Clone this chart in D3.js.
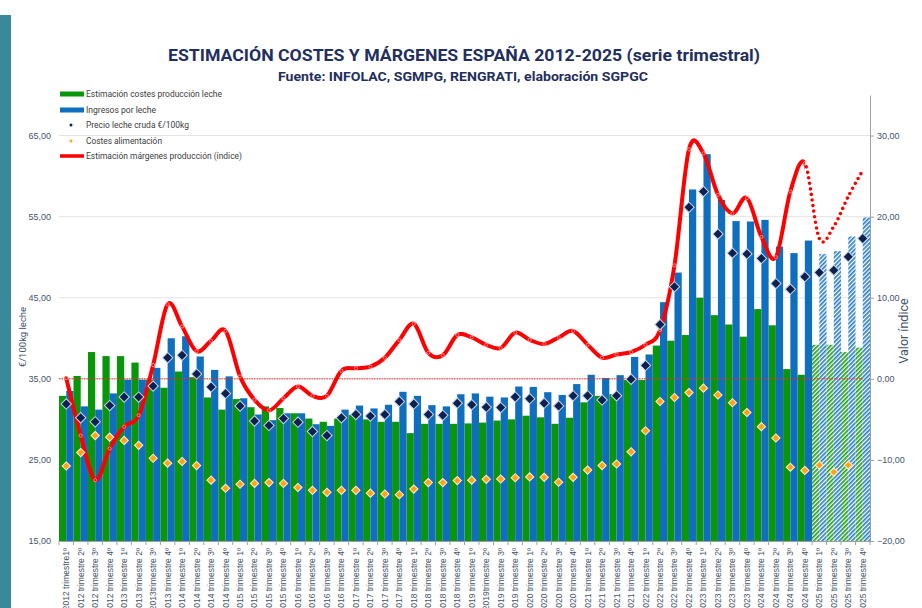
<!DOCTYPE html>
<html>
<head>
<meta charset="utf-8">
<script src="https://cdn.jsdelivr.net/npm/d3@7"></script>
<style>
  body { margin: 0; background: #fff; }
  svg { display: block; font-family: Roboto, "Open Sans", sans-serif; }
</style>
</head>
<body>
<svg id="chart" width="922" height="608"></svg>
<script>
// quarter labels as printed on the x axis (typos kept)
const labels = [
  '2012 trimestre1º', '2012 trimestre 2º', '2012 trimestre 3º', '2012 trimestre 4º',
  '2013 trimestre 1º', '2013 trimestre 2º', '2013trimestre 3º', '2013 trimestre 4º',
  '2014 trimestre 1º', '2014 trimestre 2º', '2014 trimestre 3º', '2014 trimestre 4º',
  '2015 trimestre 1º', '2015 trimestre 2º', '2015 trimestre 3º', '2015 trimestre 4º',
  '2016 trimestre 1º', '2016 trimestre 2º', '2016 trimestre 3º', '2016 trimestre 4º',
  '2017 trimestre 1º', '2017 trimestre 2º', '2017 trimestre 3º', '2017 trimestre 4º',
  '2018 trimestre 1º', '2018 trimestre 2º', '2018 trimestre 3º', '2018 trimestre 4º',
  '2019 trimestre 1º', '2019trimestre 2º', '2019 trimestre 3º', '2019 trimestre 4º',
  '2020 trimestre 1º', '2020 trimestre 2º', '2020 trimestre 3º', '2020 trimestre 4º',
  '2021 trimestre 1º', '2021 trimestre 2º', '2021 trimestre 3º', '2021 trimestre 4º',
  '2022 trimestre 1º', '2022 trimestre 2º', '2022 trimestre 3º', '2022 trimestre 4º',
  '2023 trimestre 1º', '2023 trimestre 2º', '2023 trimestre 3º', '2023 trimestre 4º',
  '2024 trimestre 1º', '2024 trimestre 2º', '2024 trimestre 3º', '2024 trimestre 4º',
  '2025 trimestre 1º', '2025 trimestre 2º', '2025 trimestre 3º', '2025 trimestre 4º'
]

// €/100kg
const costes = [
  32.9, 35.35, 38.3, 37.8, 37.8, 37.0, 34.9, 33.9,
  35.9, 35.2, 32.7, 31.2, 32.5, 31.5, 31.6, 31.4,
  30.75, 30.1, 29.7, 30.1, 30.55, 30.0, 29.7, 29.7,
  28.3, 29.45, 29.45, 29.45, 29.5, 29.6, 29.85, 30.0,
  30.45, 30.25, 29.45, 30.2, 32.1, 32.9, 33.1, 34.85,
  34.85, 39.1, 39.7, 40.4, 45.0, 42.85, 41.7, 40.2,
  43.6, 41.6, 36.2, 35.5, 39.2, 39.2, 38.3, 38.85
]

const ingresos = [
  33.5, 31.6, 31.2, 33.2, 34.9, 34.9, 36.35, 40.0,
  40.25, 37.75, 36.1, 35.3, 32.6, 30.6, 29.9, 30.75,
  30.75, 29.4, 29.2, 31.2, 31.7, 31.35, 31.8, 33.4,
  32.9, 31.75, 31.6, 33.1, 33.2, 32.8, 32.7, 34.05,
  34.0, 33.35, 33.0, 34.35, 35.5, 35.1, 35.45, 37.7,
  38.0, 44.45, 48.1, 58.35, 62.7, 57.05, 54.45, 54.4,
  54.6, 51.3, 50.5, 52.05, 50.4, 50.75, 52.55, 54.9
]

const precio = [
  31.9, 30.2, 29.7, 31.7, 32.75, 32.75, 34.1, 37.6,
  37.9, 35.6, 34.0, 33.2, 31.65, 29.8, 29.25, 30.1,
  29.65, 28.5, 28.0, 30.2, 30.6, 30.4, 30.6, 32.2,
  31.9, 30.6, 30.5, 32.0, 31.8, 31.5, 31.45, 32.75,
  32.55, 32.0, 31.65, 32.9, 32.9, 32.4, 32.9, 34.95,
  36.65, 41.7, 46.35, 56.15, 58.1, 52.85, 50.5, 50.4,
  49.85, 46.75, 46.05, 47.6, 48.1, 48.4, 50.05, 52.3
]

const alimentacion = [
  24.25, 25.9, 28.0, 27.8, 27.4, 26.8, 25.2, 24.6,
  24.8, 24.3, 22.5, 21.5, 22.0, 22.1, 22.2, 22.1,
  21.6, 21.25, 21.0, 21.25, 21.25, 20.9, 20.8, 20.7,
  21.4, 22.2, 22.2, 22.45, 22.5, 22.6, 22.65, 22.8,
  22.9, 22.85, 22.25, 22.85, 23.75, 24.3, 24.5, 26.0,
  28.6, 32.2, 32.7, 33.3, 33.85, 33.0, 32.05, 30.85,
  29.1, 27.7, 24.1, 23.7, 24.35, 23.5, 24.35, null
]

// índice, eje derecho
const margen = [
  0.1, -7.0, -12.5, -8.6, -5.9, -4.5, 1.7, 9.2,
  6.45, 3.4, 4.7, 5.9, 0.3, -2.6, -3.9, -2.4,
  -0.95, -2.1, -2.1, 1.0, 1.3, 1.5, 2.6, 4.8,
  6.8, 3.2, 2.9, 5.4, 5.1, 4.2, 3.8, 5.7,
  4.8, 4.3, 5.1, 5.9, 4.2, 2.6, 3.0, 3.3,
  4.2, 6.0, 14.0, 28.3, 27.8, 22.7, 20.4, 22.3,
  17.5, 15.0, 23.1, 26.6, 17.3, 18.8, 22.5, 25.7
]

const leftTicks = [15, 25, 35, 45, 55, 65]
const rightTicks = [-20, -10, 0, 10, 20, 30]
const firstEstimate = 52 // 2025 quarters are estimates

const C = {
  green: '#0a960a',
  blue: '#0f6ebe',
  navy: '#0c2150',
  orange: '#ffa31a',
  red: '#ff0000',
  text: '#44546a',
  title: '#1f2f5e'
}

const svg = d3.select('#chart')
const fmt = d => d3.format('.2f')(d).replace('.', ',')

// background strip on the left
svg.append('rect').attr('x', 0).attr('y', 15).attr('width', 11).attr('height', 593).attr('fill', '#3a8898')

const x = d3.scaleBand().domain(labels).range([59, 870]).padding(0)
const half = d3.scaleBand().domain(['costes', 'ingresos']).range([0, x.bandwidth()])
const yL = d3.scaleLinear().domain([15, 70]).range([541, 95])
const yR = d3.scaleLinear().domain([-20, 35]).range([541, 95])
const cx = i => x(labels[i]) + x.bandwidth() / 2

// hatch patterns for the estimated quarters
const defs = svg.append('defs')
function hatch(id, color) {
  const p = defs.append('pattern')
    .attr('id', id)
    .attr('patternUnits', 'userSpaceOnUse')
    .attr('width', 3).attr('height', 3)
    .attr('patternTransform', 'rotate(45)')
  p.append('rect').attr('width', 3).attr('height', 3).attr('fill', '#fff')
  p.append('rect').attr('width', 1.7).attr('height', 3).attr('fill', color)
}
hatch('hatchGreen', '#1fa01f')
hatch('hatchBlue', '#2a7fcc')

// gridlines
svg.append('g')
  .selectAll('line')
  .data(leftTicks.filter(t => t > 15))
  .join('line')
  .attr('x1', 59).attr('x2', 870)
  .attr('y1', d => yL(d)).attr('y2', d => yL(d))
  .attr('stroke', '#e4e4e4')

// bars
const bars = svg.append('g')
bars.selectAll('rect.costes')
  .data(costes)
  .join('rect')
  .attr('class', 'costes')
  .attr('x', (d, i) => x(labels[i]) + half('costes'))
  .attr('width', half.bandwidth())
  .attr('y', d => yL(d))
  .attr('height', d => yL(15) - yL(d))
  .attr('fill', (d, i) => (i >= firstEstimate ? 'url(#hatchGreen)' : C.green))

bars.selectAll('rect.ingresos')
  .data(ingresos)
  .join('rect')
  .attr('class', 'ingresos')
  .attr('x', (d, i) => x(labels[i]) + half('ingresos'))
  .attr('width', half.bandwidth())
  .attr('y', d => yL(d))
  .attr('height', d => yL(15) - yL(d))
  .attr('fill', (d, i) => (i >= firstEstimate ? 'url(#hatchBlue)' : C.blue))

// zero line of the margin index
svg.append('line')
  .attr('x1', 59).attr('x2', cx(labels.length - 1))
  .attr('y1', yR(0)).attr('y2', yR(0))
  .attr('stroke', '#e8302a').attr('stroke-width', 1)
  .attr('stroke-dasharray', '1.5 1')

// margin line: solid up to the last real quarter, dotted for estimates
const line = d3.line()
  .x((d, i) => cx(i))
  .y(d => yR(d))
  .curve(d3.curveCardinal.tension(0))
const split = cx(firstEstimate - 1)
defs.append('clipPath').attr('id', 'clipReal')
  .append('rect').attr('x', 0).attr('y', 0).attr('width', split).attr('height', 608)
defs.append('clipPath').attr('id', 'clipEst')
  .append('rect').attr('x', split).attr('y', 0).attr('width', 922 - split).attr('height', 608)

svg.append('path')
  .datum(margen)
  .attr('d', line)
  .attr('clip-path', 'url(#clipReal)')
  .attr('fill', 'none')
  .attr('stroke', C.red)
  .attr('stroke-width', 4)
  .attr('stroke-linecap', 'round')

svg.append('path')
  .datum(margen)
  .attr('d', line)
  .attr('clip-path', 'url(#clipEst)')
  .attr('fill', 'none')
  .attr('stroke', C.red)
  .attr('stroke-width', 3.6)
  .attr('stroke-linecap', 'round')
  .attr('stroke-dasharray', '0 5.6')

svg.append('g')
  .selectAll('circle')
  .data(margen.slice(0, firstEstimate))
  .join('circle')
  .attr('cx', (d, i) => cx(i))
  .attr('cy', d => yR(d))
  .attr('r', 1.6)
  .attr('fill', 'none')
  .attr('stroke', 'rgba(255,220,220,0.8)')
  .attr('stroke-width', 0.7)

// diamond markers
const diamond = size => d3.symbol(d3.symbolSquare, size)()
svg.append('g')
  .selectAll('path')
  .data(precio)
  .join('path')
  .attr('d', diamond(54))
  .attr('transform', (d, i) => `translate(${cx(i)},${yL(d)}) rotate(45)`)
  .attr('fill', C.navy)
  .attr('stroke', '#c9d3e6')
  .attr('stroke-width', 1)

svg.append('g')
  .selectAll('path')
  .data(alimentacion.map((v, i) => ({ v, i })).filter(d => d.v != null))
  .join('path')
  .attr('d', diamond(34))
  .attr('transform', d => `translate(${cx(d.i)},${yL(d.v)}) rotate(45)`)
  .attr('fill', C.orange)
  .attr('stroke', '#fff1cf')
  .attr('stroke-width', 1)

// left axis (labels only)
const axL = svg.append('g')
  .attr('transform', 'translate(59,0)')
  .call(d3.axisLeft(yL).tickValues(leftTicks).tickFormat(fmt).tickSize(0).tickPadding(8))
axL.select('.domain').remove()
axL.selectAll('text').attr('fill', C.text).style('font-size', '9px')

// right axis
const axR = svg.append('g')
  .attr('transform', 'translate(870,0)')
  .call(d3.axisRight(yR).tickValues(rightTicks).tickFormat(fmt).tickSize(4).tickSizeOuter(0).tickPadding(3))
axR.select('.domain').attr('stroke', '#a0a0a0')
axR.selectAll('.tick line').attr('stroke', '#a0a0a0')
axR.selectAll('text').attr('fill', C.text).style('font-size', '9px')

// bottom axis; labels run past the bottom edge as in the original
const axB = svg.append('g')
  .attr('transform', 'translate(0,541)')
  .call(d3.axisBottom(x).tickSize(0).tickSizeOuter(0))
axB.select('.domain').attr('stroke', '#a0a0a0')
axB.selectAll('text')
  .attr('transform', 'rotate(-90)')
  .attr('text-anchor', 'end')
  .attr('x', -7)
  .attr('y', 0)
  .attr('dy', '0.35em')
  .attr('fill', C.text)
  .style('font-size', '8.5px')
axB.append('g')
  .selectAll('line')
  .data(labels.concat(['__end']))
  .join('line')
  .attr('x1', (d, i) => 59 + i * x.step())
  .attr('x2', (d, i) => 59 + i * x.step())
  .attr('y1', 0).attr('y2', 4)
  .attr('stroke', '#a0a0a0')

// axis titles
svg.append('text')
  .attr('transform', 'translate(26,337) rotate(-90)')
  .attr('text-anchor', 'middle')
  .attr('fill', C.text)
  .style('font-size', '9.5px')
  .text('€/100kg leche')

svg.append('text')
  .attr('transform', 'translate(908,331) rotate(-90)')
  .attr('text-anchor', 'middle')
  .attr('fill', C.text)
  .style('font-size', '12.5px')
  .text('Valor índice')

// titles
svg.append('text')
  .attr('x', 464).attr('y', 61)
  .attr('text-anchor', 'middle')
  .attr('fill', C.title)
  .attr('textLength', 592).attr('lengthAdjust', 'spacingAndGlyphs')
  .style('font-size', '17px').style('font-weight', 'bold')
  .text('ESTIMACIÓN COSTES Y MÁRGENES ESPAÑA 2012-2025 (serie trimestral)')

svg.append('text')
  .attr('x', 463).attr('y', 81)
  .attr('text-anchor', 'middle')
  .attr('fill', C.title)
  .attr('textLength', 370).attr('lengthAdjust', 'spacingAndGlyphs')
  .style('font-size', '12.5px').style('font-weight', 'bold')
  .text('Fuente: INFOLAC, SGMPG, RENGRATI, elaboración SGPGC')

// legend
const legend = [
  { name: 'Estimación costes producción leche', type: 'bar', color: C.green, w: 136 },
  { name: 'Ingresos por leche', type: 'bar', color: C.blue, w: 70 },
  { name: 'Precio leche cruda €/100kg', type: 'dot', color: C.navy, w: 103 },
  { name: 'Costes alimentación', type: 'dot', color: C.orange, w: 76 },
  { name: 'Estimación márgenes producción (índice)', type: 'line', color: C.red, w: 156 }
]
const lg = svg.append('g')
  .selectAll('g')
  .data(legend)
  .join('g')
  .attr('transform', (d, i) => `translate(60,${[94, 110, 125, 141, 156][i]})`)
lg.filter(d => d.type === 'bar').append('rect')
  .attr('x', 0).attr('y', -2.5).attr('width', 24).attr('height', 5)
  .attr('fill', d => d.color)
lg.filter(d => d.type === 'dot').append('circle')
  .attr('cx', 11).attr('cy', 0).attr('r', 1.5)
  .attr('fill', d => d.color)
lg.filter(d => d.type === 'line').append('line')
  .attr('x1', 0).attr('x2', 24).attr('y1', 0).attr('y2', 0)
  .attr('stroke', d => d.color).attr('stroke-width', 3.5)
lg.append('text')
  .attr('x', 26).attr('y', 3)
  .attr('fill', '#3c3c3c')
  .attr('textLength', d => d.w).attr('lengthAdjust', 'spacingAndGlyphs')
  .style('font-size', '8.5px')
  .text(d => d.name)
</script>
</body>
</html>
